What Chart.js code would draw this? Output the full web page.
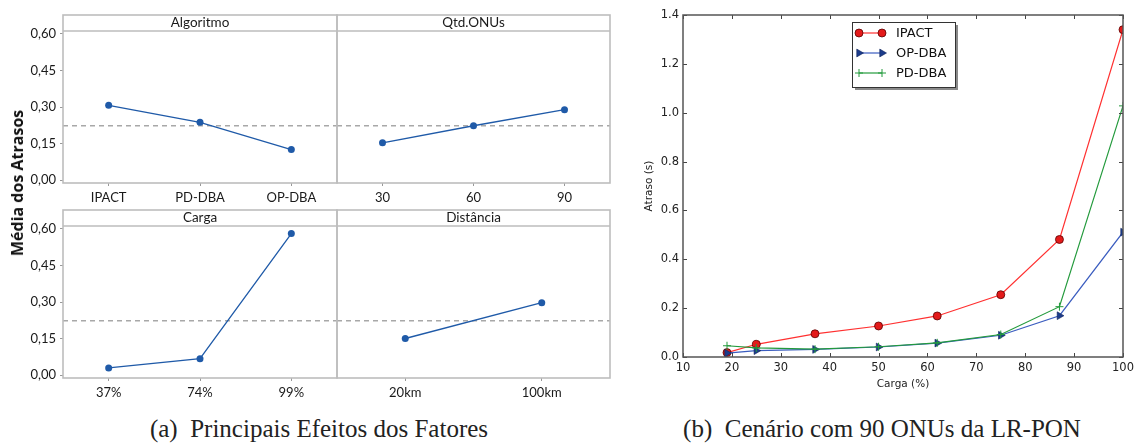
<!DOCTYPE html>
<html>
<head>
<meta charset="utf-8">
<script src="https://cdn.jsdelivr.net/npm/chart.js@4.4.1/dist/chart.umd.min.js"></script>
<style>
  body { margin: 0; background: #fff; }
  #wrap { position: relative; width: 1138px; height: 443px; overflow: hidden; }
  canvas { position: absolute; }
  .cap { position: absolute; top: 415px; font-family: "Liberation Serif", serif; font-size: 25px; color: #222; white-space: nowrap; transform: translateX(-50%); }
  #ylab { position: absolute; left: 17px; top: 183px; font-family: "Open Sans", sans-serif; font-weight: 700; font-size: 16px; color: #111;
          transform: translate(-50%, -50%) rotate(-90deg); white-space: nowrap; }
</style>
</head>
<body>
<div id="wrap">
  <canvas id="tl" width="342" height="205" style="left:0;top:0"></canvas>
  <canvas id="tr" width="290" height="205" style="left:330px;top:0"></canvas>
  <canvas id="bl" width="342" height="210" style="left:0;top:200px"></canvas>
  <canvas id="br" width="290" height="210" style="left:330px;top:200px"></canvas>
  <canvas id="rc" width="508" height="400" style="left:630px;top:0"></canvas>
  <div id="ylab">Média dos Atrasos</div>
  <div class="cap" style="left:319px">(a)&nbsp; Principais Efeitos dos Fatores</div>
  <div class="cap" style="left:882px">(b)&nbsp; Cenário com 90 ONUs da LR-PON</div>
</div>
<script>
// (a) main effects
const algLabels = ['IPACT', 'PD-DBA', 'OP-DBA'];
const algMeans = [0.307, 0.237, 0.125];
const onuLabels = ['30', '60', '90'];
const onuMeans = [0.153, 0.223, 0.289];
const cargaLabels = ['37%', '74%', '99%'];
const cargaMeans = [0.029, 0.067, 0.581];
const distLabels = ['20km', '100km'];
const distMeans = [0.150, 0.297];
const grandMean = 0.223;
const effectTicks = [0, 0.15, 0.30, 0.45, 0.60];

// (b) delay vs load, 90 ONUs
const loadPct = [19, 25, 37, 50, 62, 75, 87, 100];
const ipactDelay = [0.018, 0.052, 0.095, 0.127, 0.168, 0.255, 0.481, 1.340];
const opdbaDelay = [0.016, 0.026, 0.031, 0.041, 0.057, 0.089, 0.169, 0.511];
const pddbaDelay = [0.046, 0.037, 0.032, 0.042, 0.058, 0.092, 0.206, 1.028];

const blue = '#1f5aa8';
const mtFont = { family: 'Lato, sans-serif', size: 13 };

const panelFrame = {
  id: 'panelFrame',
  beforeDatasetsDraw(chart, args, opts) {
    const { ctx, chartArea: a } = chart;
    const y = chart.scales.y.getPixelForValue(opts.mean);
    ctx.save();
    ctx.strokeStyle = '#a8a8a8';
    ctx.lineWidth = 1.5;
    ctx.setLineDash([5, 4]);
    ctx.beginPath();
    ctx.moveTo(a.left, y);
    ctx.lineTo(a.right, y);
    ctx.stroke();
    ctx.restore();
  },
  afterDraw(chart, args, opts) {
    const { ctx, chartArea: a } = chart;
    ctx.save();
    ctx.strokeStyle = '#bdbdbd';
    ctx.lineWidth = 1.6;
    ctx.strokeRect(a.left, a.top - 16, a.right - a.left, a.bottom - a.top + 16);
    ctx.beginPath();
    ctx.moveTo(a.left, a.top);
    ctx.lineTo(a.right, a.top);
    ctx.stroke();
    ctx.fillStyle = '#1a1a1a';
    ctx.font = '13.5px Lato, sans-serif';
    ctx.textAlign = 'center';
    ctx.textBaseline = 'middle';
    ctx.fillText(opts.title, (a.left + a.right) / 2, a.top - 8);
    ctx.restore();
  }
};

function effectPanel(id, box, area, title, labels, values, showY) {
  new Chart(document.getElementById(id), {
    type: 'line',
    data: {
      labels: labels,
      datasets: [{
        data: values,
        borderColor: blue,
        backgroundColor: blue,
        borderWidth: 1.3,
        pointRadius: 3.5,
        pointBorderWidth: 0
      }]
    },
    options: {
      animation: false,
      responsive: false,
      devicePixelRatio: 1,
      layout: { padding: { top: area.t - box.y, right: box.x + box.w - area.r, bottom: 0, left: 0 } },
      plugins: {
        legend: { display: false },
        tooltip: { enabled: false },
        panelFrame: { title: title, mean: grandMean }
      },
      scales: {
        x: {
          type: 'category',
          offset: true,
          grid: { offset: false, drawOnChartArea: false, tickLength: 3, color: '#999' },
          border: { display: false },
          ticks: { font: mtFont, color: '#1a1a1a', padding: 4, maxRotation: 0 },
          afterFit: s => { s.height = box.y + box.h - area.b; }
        },
        y: {
          min: -0.0123,
          max: 0.6123,
          afterBuildTicks: s => { s.ticks = effectTicks.map(v => ({ value: v })); },
          ticks: { display: showY, font: mtFont, color: '#1a1a1a', padding: 4, callback: v => v.toFixed(2).replace('.', ',') },
          grid: { display: showY, drawOnChartArea: false, tickLength: 3, color: '#999' },
          border: { display: false },
          afterFit: s => { s.width = area.l - box.x; }
        }
      }
    },
    plugins: [panelFrame]
  });
}

effectPanel('tl', { x: 0, y: 0, w: 342, h: 205 }, { l: 63, t: 31, r: 337, b: 183 }, 'Algoritmo', algLabels, algMeans, true);
effectPanel('tr', { x: 330, y: 0, w: 290, h: 205 }, { l: 337, t: 31, r: 610, b: 183 }, 'Qtd.ONUs', onuLabels, onuMeans, false);
effectPanel('bl', { x: 0, y: 200, w: 342, h: 210 }, { l: 63, t: 226, r: 337, b: 378 }, 'Carga', cargaLabels, cargaMeans, true);
effectPanel('br', { x: 330, y: 200, w: 290, h: 210 }, { l: 337, t: 226, r: 610, b: 378 }, 'Distância', distLabels, distMeans, false);

// right chart
const series = [
  { label: 'IPACT', values: ipactDelay, line: '#ff3030', fill: '#e41a1a', edge: '#5a0000', style: 'circle', radius: 4, rot: 0, bw: 0.8, order: 3 },
  { label: 'OP-DBA', values: opdbaDelay, line: '#3a5cbf', fill: '#1c3c8c', edge: '#10245a', style: 'triangle', radius: 4.5, rot: 90, bw: 0.6, order: 2 },
  { label: 'PD-DBA', values: pddbaDelay, line: '#239a3c', fill: '#239a3c', edge: '#239a3c', style: 'cross', radius: 4, rot: 0, bw: 1, order: 1 }
];

const dvFont = { family: '"DejaVu Sans", sans-serif', size: 11.5 };

const mplFrame = {
  id: 'mplFrame',
  afterDraw(chart) {
    const { ctx, chartArea: a, scales } = chart;
    ctx.save();
    ctx.strokeStyle = '#444';
    ctx.lineWidth = 1;
    ctx.beginPath();
    scales.x.ticks.forEach(t => {
      const x = Math.round(scales.x.getPixelForValue(t.value)) + 0.5;
      ctx.moveTo(x, a.bottom); ctx.lineTo(x, a.bottom - 4);
      ctx.moveTo(x, a.top); ctx.lineTo(x, a.top + 4);
    });
    scales.y.ticks.forEach(t => {
      const y = Math.round(scales.y.getPixelForValue(t.value)) + 0.5;
      ctx.moveTo(a.left, y); ctx.lineTo(a.left + 4, y);
      ctx.moveTo(a.right, y); ctx.lineTo(a.right - 4, y);
    });
    ctx.stroke();
    ctx.strokeStyle = '#555';
    ctx.lineWidth = 1.5;
    ctx.strokeRect(a.left, a.top, a.right - a.left, a.bottom - a.top);

    // legend box
    const bx = a.left + 169, by = a.top + 7, bw = 103, bh = 65;
    ctx.fillStyle = '#8a8a8a';
    ctx.fillRect(bx + 3, by + 3, bw, bh);
    ctx.fillStyle = '#fff';
    ctx.fillRect(bx, by, bw, bh);
    ctx.strokeStyle = '#333';
    ctx.lineWidth = 1;
    ctx.strokeRect(bx + 0.5, by + 0.5, bw, bh);
    ctx.font = '13px "DejaVu Sans", sans-serif';
    ctx.textBaseline = 'middle';
    series.forEach((s, i) => {
      const y = by + 11 + i * 20;
      ctx.strokeStyle = s.line;
      ctx.lineWidth = 1.2;
      ctx.beginPath();
      ctx.moveTo(bx + 7, y); ctx.lineTo(bx + 30, y);
      ctx.stroke();
      ctx.fillStyle = s.fill;
      ctx.strokeStyle = s.edge;
      ctx.lineWidth = s.bw;
      [bx + 7, bx + 30].forEach(px => {
        Chart.helpers.drawPoint(ctx, { pointStyle: s.style, rotation: s.rot, radius: s.radius, borderWidth: s.bw }, px, y);
      });
      ctx.fillStyle = '#111';
      ctx.fillText(s.label, bx + 44, y + 1);
    });
    ctx.restore();
  }
};

new Chart(document.getElementById('rc'), {
  type: 'line',
  data: {
    datasets: series.map(s => ({
      label: s.label,
      data: loadPct.map((x, i) => ({ x: x, y: s.values[i] })),
      borderColor: s.line,
      borderWidth: 1.2,
      backgroundColor: s.fill,
      pointBackgroundColor: s.fill,
      pointBorderColor: s.edge,
      pointBorderWidth: s.bw,
      pointStyle: s.style,
      pointRotation: s.rot,
      pointRadius: s.radius,
      order: s.order
    }))
  },
  options: {
    animation: false,
    responsive: false,
    devicePixelRatio: 1,
    layout: { padding: { top: 15, right: 15, bottom: 0, left: 0 } },
    plugins: { legend: { display: false }, tooltip: { enabled: false } },
    scales: {
      x: {
        type: 'linear', min: 10, max: 100,
        ticks: { stepSize: 10, font: dvFont, color: '#222', padding: 4 },
        grid: { display: false, drawTicks: false },
        border: { display: false },
        title: { display: true, text: 'Carga (%)', font: { family: '"DejaVu Sans", sans-serif', size: 10.5 }, color: '#222', padding: { top: 0, bottom: 9 } },
        afterFit: s => { s.height = 43; }
      },
      y: {
        min: 0, max: 1.4,
        ticks: { stepSize: 0.2, font: dvFont, color: '#222', padding: 4, callback: v => v.toFixed(1) },
        grid: { display: false, drawTicks: false },
        border: { display: false },
        title: { display: true, text: 'Atraso (s)', font: { family: '"DejaVu Sans", sans-serif', size: 10.5 }, color: '#222', padding: { top: 13, bottom: 0 } },
        afterFit: s => { s.width = 53; }
      }
    }
  },
  plugins: [mplFrame]
});
</script>
</body>
</html>
